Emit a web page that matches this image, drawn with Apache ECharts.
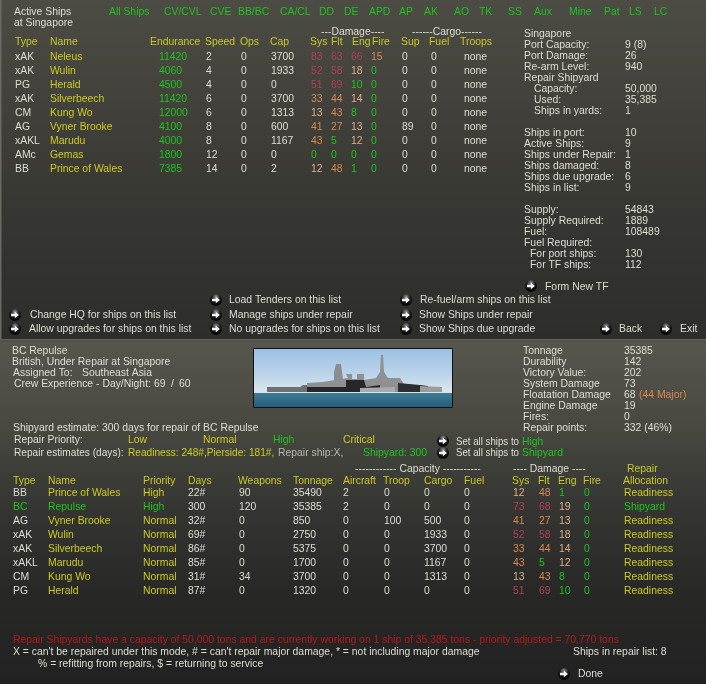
<!DOCTYPE html>
<html><head><meta charset="utf-8">
<style>html,body{margin:0;padding:0;background:#222}#c{width:706px;height:684px}</style>
<script src="https://cdn.jsdelivr.net/npm/echarts@6/dist/echarts.min.js"></script></head>
<body><div id="c"></div>
<script>
// ---- data ----
const filterLabels = ['All Ships','CV/CVL','CVE','BB/BC','CA/CL','DD','DE','APD','AP','AK','AO','TK','SS','Aux','Mine','Pat','LS','LC'];
const activeHeaders = ['Type','Name','Endurance','Speed','Ops','Cap','Sys','Flt','Eng','Fire','Sup','Fuel','Troops'];
const activeTypes = ['xAK','xAK','PG','xAK','CM','AG','xAKL','AMc','BB'];
const activeNames = ['Neleus','Wulin','Herald','Silverbeech','Kung Wo','Vyner Brooke','Marudu','Gemas','Prince of Wales'];
const activeEndurance = [11420,4060,4500,11420,12000,4100,4000,1800,7385];
const activeSpeed = [2,4,4,6,6,8,8,12,14];
const activeOps = [0,0,0,0,0,0,0,0,0];
const activeCap = [3700,1933,0,3700,1313,600,1167,0,2];
const activeSys = [83,52,51,33,13,41,43,0,12];
const activeFlt = [63,58,69,44,43,27,5,0,48];
const activeEng = [66,18,10,14,8,13,12,0,1];
const activeFire = [15,0,0,0,0,0,0,0,0];
const activeSup = [0,0,0,0,0,89,0,0,0];
const activeFuel = [0,0,0,0,0,0,0,0,0];
const activeTroops = ['none','none','none','none','none','none','none','none','none'];
const portLabels = ['Singapore','Port Capacity:','Port Damage:','Re-arm Level:','Repair Shipyard','Capacity:','Used:','Ships in yards:','','Ships in port:','Active Ships:','Ships under Repair:','Ships damaged:','Ships due upgrade:','Ships in list:','','Supply:','Supply Required:','Fuel:','Fuel Required:','For port ships:','For TF ships:'];
const portValues = ['','9 (8)','26','940','','50,000','35,385','1','','10','9','1','8','6','9','','54843','1889','108489','','130','112'];
const shipLabels = ['Tonnage','Durability','Victory Value:','System Damage','Floatation Damage','Engine Damage','Fires:','Repair points:'];
const shipValues = ['35385','142','202','73','68','19','0','332 (46%)'];
const repairHeaders = ['Type','Name','Priority','Days','Weapons','Tonnage','Aircraft','Troop','Cargo','Fuel','Sys','Flt','Eng','Fire','Allocation'];
const repairTypes = ['BB','BC','AG','xAK','xAK','xAKL','CM','PG'];
const repairNames = ['Prince of Wales','Repulse','Vyner Brooke','Wulin','Silverbeech','Marudu','Kung Wo','Herald'];
const repairPriority = ['High','High','Normal','Normal','Normal','Normal','Normal','Normal'];
const repairDays = ['22#','300','32#','69#','86#','85#','31#','87#'];
const repairWeapons = [90,120,0,0,0,0,34,0];
const repairTonnage = [35490,35385,850,2750,5375,1700,3700,1320];
const repairAircraft = [2,2,0,0,0,0,0,0];
const repairTroop = [0,0,100,0,0,0,0,0];
const repairCargo = [0,0,500,1933,3700,1167,1313,0];
const repairFuel = [0,0,0,0,0,0,0,0];
const repairSys = [12,73,41,52,33,43,13,51];
const repairFlt = [48,68,27,58,44,5,43,69];
const repairEng = [1,19,13,18,14,12,8,10];
const repairFire = [0,0,0,0,0,0,0,0];
const repairAlloc = ['Readiness','Shipyard','Readiness','Readiness','Readiness','Readiness','Readiness','Readiness'];

// ---- layout & style ----
const WHITE='#dedfd4', YEL='#cccc22', HEAD='#c9c92a', GRN='#1fc41f', PINK='#b0405a', ORG='#d68a52', PEACH='#dcb08c', RED='#b81a1a';
const FONT='"Liberation Sans"', SIZE=11, SX=0.945;
const els=[];
function T(s,x,y,fill,sx){els.push({type:'text',silent:true,z:10,x:x,y:y,scaleX:sx||SX,style:{text:String(s),x:0,y:0,fill:fill||WHITE,font:SIZE+'px '+FONT,verticalAlign:'middle',align:'left'}});}
function dmg(v){return v>=50?PINK:v>=20?ORG:v>10?PEACH:GRN;}
function fireC(v){return v>0?ORG:GRN;}
function arrow(cx,cy){
  els.push({type:'circle',z:9,silent:true,shape:{cx,cy,r:6},style:{fill:{type:'radial',x:.5,y:.25,r:.75,colorStops:[{offset:0,color:'#9a9a9a'},{offset:.45,color:'#1c1c1c'},{offset:1,color:'#000'}]}}});
  els.push({type:'polygon',z:10,silent:true,shape:{points:[[cx-4,cy-1.2],[cx-.2,cy-1.2],[cx-.2,cy-3.2],[cx+4,cy],[cx-.2,cy+3.2],[cx-.2,cy+1.2],[cx-4,cy+1.2]]},style:{fill:'#f4f4f4'}});
}
function bg(y,h,c){els.push({type:'rect',z:0,silent:true,shape:{x:0,y,width:706,height:h},style:{fill:{type:'linear',x:0,y:0,x2:0,y2:1,colorStops:c.map((k,i)=>({offset:i/(c.length-1),color:k}))}}});}
function poly(points,fill,z){els.push({type:'polygon',z:z||3,silent:true,shape:{points},style:{fill}});}
bg(0,339,['#4c4b44','#41403a','#353531','#2d2d2a']);
bg(339,3,['#6c6b62','#55544c','#4a4a44']);
bg(342,342,['#57564d','#484841','#343431','#272726','#222222']);
els.push({type:'rect',z:1,silent:true,shape:{x:0,y:0,width:1.5,height:339},style:{fill:'#6a6a62'}});

// top titles
T('Active Ships',14,12);T('at Singapore',14,23);
const filterX=[109,164,210,238,280,319,344,369,399,424,454,479,508,534,569,604,629,654];
filterLabels.forEach((s,i)=>T(s,filterX[i],12,GRN));
T('---Damage----',321,32);T('------Cargo------',412,32);

// active ships table
const aHX=[15,50,150,205,240,270,310,331,352,372,401,429,460];
activeHeaders.forEach((s,i)=>T(s,aHX[i],42,HEAD));
activeTypes.forEach((_,i)=>{
  const y=57+i*14;
  T(activeTypes[i],15,y);
  T(activeNames[i],50,y,YEL);
  T(activeEndurance[i],159,y,GRN);
  T(activeSpeed[i],206,y);
  T(activeOps[i],241,y);
  T(activeCap[i],271,y);
  T(activeSys[i],311,y,dmg(activeSys[i]));
  T(activeFlt[i],331,y,dmg(activeFlt[i]));
  T(activeEng[i],351,y,dmg(activeEng[i]));
  T(activeFire[i],371,y,fireC(activeFire[i]));
  T(activeSup[i],402,y);
  T(activeFuel[i],431,y);
  T(activeTroops[i],464,y);
});

// port panel
portLabels.forEach((s,i)=>{
  const y=34+i*11;
  const x=(i>=5&&i<=7)?534:(i>=20?530:524);
  if(s)T(s,x,y);
  if(portValues[i])T(portValues[i],625,y);
});
arrow(531,286);T('Form New TF',545,287);

// command buttons
[[216,300,229,'Load Tenders on this list'],[15,315,30,'Change HQ for ships on this list'],[15,329,29,'Allow upgrades for ships on this list'],
 [216,315,229,'Manage ships under repair'],[216,329,229,'No upgrades for ships on this list'],
 [406,300,420,'Re-fuel/arm ships on this list'],[406,315,419,'Show Ships under repair'],[406,329,419,'Show Ships due upgrade'],
 [606,329,619,'Back'],[666,329,680,'Exit']].forEach(b=>{arrow(b[0],b[1]);T(b[3],b[2],b[1]);});

// ship detail
T('BC Repulse',12,351);T('British, Under Repair at Singapore',12,362);T('Assigned To:',13,373);T('Southeast Asia',82,373);
T('Crew Experience - Day/Night:',14,384);T('69',154,384);T('/',171,384);T('60',179,384);

// ship picture
els.push({type:'rect',z:2,silent:true,shape:{x:253.5,y:348.5,width:199,height:59},style:{fill:{type:'linear',x:0,y:0,x2:0,y2:1,colorStops:[{offset:0,color:'#9cc0e4'},{offset:.45,color:'#bcd4ea'},{offset:.75,color:'#dce8f0'},{offset:.755,color:'#3c7c94'},{offset:1,color:'#285a78'}]}}});
els.push({type:'rect',z:5,silent:true,shape:{x:253.5,y:348.5,width:199,height:59},style:{fill:'none',stroke:'#111',lineWidth:1}});
poly([[267,387],[300,387],[303,385],[307,385],[307,392],[267,392]],'#6f7072');
poly([[307,383],[322,382],[335,380],[336,372],[340,372],[342,379],[348,378],[346,374],[352,374],[352,379],[357,379],[357,374],[364,374],[364,380],[376,378],[380,372],[381,355],[383,355],[384,372],[388,378],[400,378],[404,384],[420,386],[442,388],[442,392],[307,392]],'#8e9092');
poly([[334,372],[336,364],[341,364],[342,372],[343,380],[334,380]],'#8a8c8e');
poly([[346,380],[364,380],[366,387],[380,385],[380,392],[307,392],[307,387],[346,387]],'#25272a',4);
poly([[398,383],[420,385],[428,386],[428,392],[398,392]],'#2c2e30',4);
poly([[360,388],[395,387],[395,392],[360,392]],'#a8aaac',4);
poly([[420,386],[442,387],[442,392],[420,392]],'#9a9c9e',4);

// ship stats
shipLabels.forEach((s,i)=>{T(s,523,351+i*11);T(shipValues[i],624,351+i*11);});
T('(44 Major)',639,395,ORG);

// repair options
T('Shipyard estimate: 300 days for repair of BC Repulse',13,428);
T('Repair Priority:',14,440);T('Low',128,440,YEL);T('Normal',203,440,YEL);T('High',273,440,GRN);T('Critical',343,440,YEL);
T('Repair estimates (days):',14,453,WHITE,0.92);T('Readiness: 248#,Pierside: 181#,',128,453,YEL,0.92);T('Repair ship:X,',278,453,'#b8b8ae');T('Shipyard: 300',363,453,GRN);
arrow(443,441);arrow(443,453);
T('Set all ships to',456,442,WHITE,0.88);T('High',522,442,GRN);T('Set all ships to',456,453,WHITE,0.88);T('Shipyard',522,453,GRN);

// repair table
T('------------ Capacity -----------',355,469);T('---- Damage ----',513,469);T('Repair',627,469,HEAD);
const rHX=[13,48,143,188,238,293,343,383,424,464,512,538,558,583,623];
repairHeaders.forEach((s,i)=>T(s,rHX[i],481,HEAD));
repairTypes.forEach((_,i)=>{
  const y=493+i*14, sel=repairAlloc[i]==='Shipyard';
  T(repairTypes[i],13,y,sel?GRN:WHITE);
  T(repairNames[i],48,y,sel?GRN:YEL);
  T(repairPriority[i],143,y,sel?GRN:YEL);
  T(repairDays[i],188,y);
  T(repairWeapons[i],239,y);
  T(repairTonnage[i],293,y);
  T(repairAircraft[i],343,y);
  T(repairTroop[i],384,y);
  T(repairCargo[i],424,y);
  T(repairFuel[i],464,y);
  T(repairSys[i],513,y,dmg(repairSys[i]));
  T(repairFlt[i],539,y,dmg(repairFlt[i]));
  T(repairEng[i],559,y,dmg(repairEng[i]));
  T(repairFire[i],584,y,fireC(repairFire[i]));
  T(repairAlloc[i],624,y,sel?GRN:YEL);
});

// footer
T('Repair Shipyards have a capacity of 50,000 tons and are currently working on 1 ship of 35,385 tons - priority adjusted = 70,770 tons',13,640,RED);
T("X = can't be repaired under this mode, # = can't repair major damage, * = not including major damage",13,652);
T('% = refitting from repairs, $ = returning to service',38,664);
T('Ships in repair list: 8',573,652);
arrow(564,674);T('Done',578,674);

const chart=echarts.init(document.getElementById('c'),null,{renderer:'canvas'});
chart.setOption({animation:false,backgroundColor:'#2a2a28',graphic:{elements:els}});
</script></body></html>
